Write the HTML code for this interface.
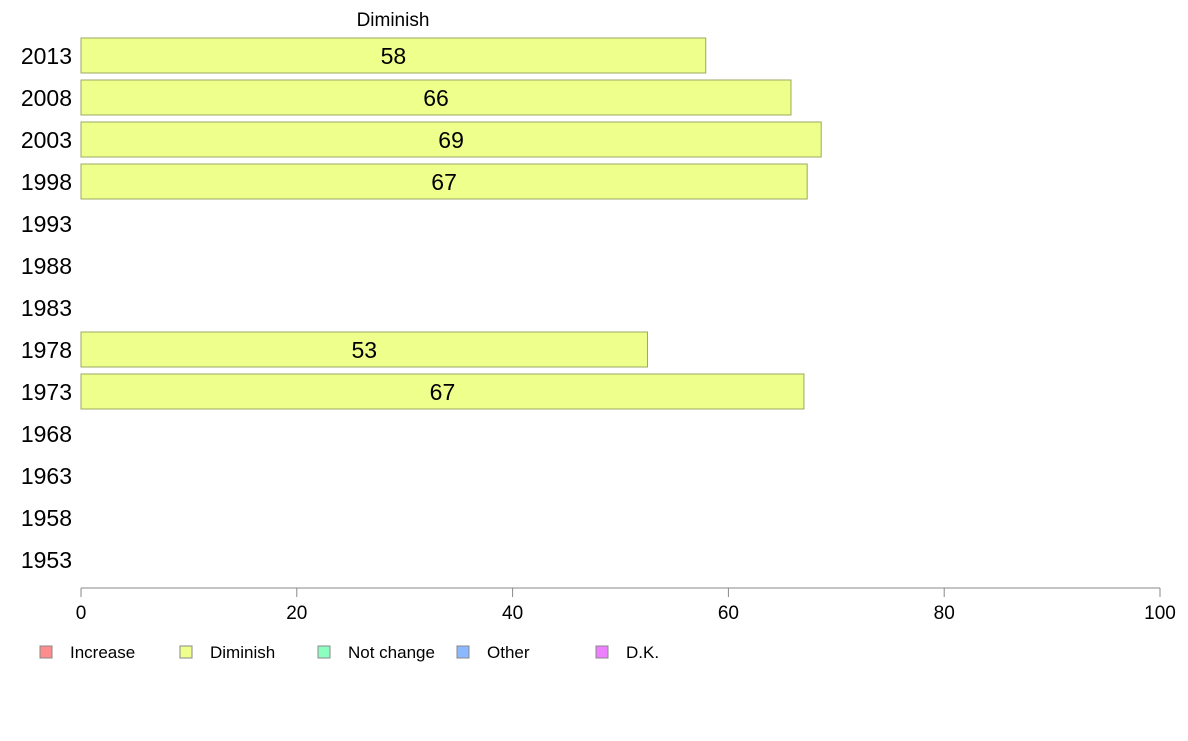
<!DOCTYPE html>
<html><head><meta charset="utf-8"><style>
body{margin:0;background:#fff;font-family:"Liberation Sans",sans-serif;}
svg text{font-family:"Liberation Sans",sans-serif;}
</style></head><body>
<svg id="c" width="1188" height="736">
<text x="393" y="26" font-size="19" text-anchor="middle">Diminish</text>
<g id="bars"></g>
<line x1="81" y1="588" x2="1160" y2="588" stroke="#888"/>
<g id="xt"></g>
<g id="legend"></g>
</svg>
<script>
const categories=["2013","2008","2003","1998","1993","1988","1983","1978","1973","1968","1963","1958","1953"];
const values=[57.9,65.8,68.6,67.3,null,null,null,52.5,67.0,null,null,null,null];
const labels=["58","66","69","67","","","","53","67","","","",""];
const ticks=[0,20,40,60,80,100];
const legendNames=["Increase","Diminish","Not change","Other","D.K."];
const legendColors=["#ff8c8c","#eeff8c","#8cffc0","#8cb8ff","#ee80ff"];
const NS="http://www.w3.org/2000/svg";
const x=v=>81+v*10.79;
const yc=i=>56+i*42;
function mk(t,a,p){const e=document.createElementNS(NS,t);for(const k in a)e.setAttribute(k,a[k]);p.appendChild(e);return e;}
const bars=document.getElementById('bars');
categories.forEach((c,i)=>{
 const t=mk('text',{x:72,y:yc(i)+8,'font-size':23,'text-anchor':'end'},bars);t.textContent=c;
 
 
 if(values[i]!=null){
  const r=mk('rect',{x:x(0),y:yc(i)-18,width:x(values[i])-x(0),height:35,fill:'#eeff8c',stroke:'#9aaa60','stroke-width':1},bars);
  
  
  const l=mk('text',{x:(x(0)+x(values[i]))/2,y:yc(i)+8,'font-size':23,'text-anchor':'middle'},bars);l.textContent=labels[i];
  
  
 }
});
const xt=document.getElementById('xt');
ticks.forEach(v=>{
 const ln=mk('line',{x1:x(v),x2:x(v),y1:588,y2:597,stroke:'#888'},xt);
 
 
 const t=mk('text',{x:x(v),y:619,'font-size':19,'text-anchor':'middle'},xt);t.textContent=v;
 
 
});
const lg=document.getElementById('legend');
const lx=[40,180,318,457,596];
legendNames.forEach((n,i)=>{
 const r=mk('rect',{x:lx[i],y:646,width:12,height:12,fill:legendColors[i],stroke:'#888'},lg);
 
 
 const t=mk('text',{x:lx[i]+30,y:658,'font-size':17},lg);t.textContent=n;
 
 
});
</script>
</body></html>
